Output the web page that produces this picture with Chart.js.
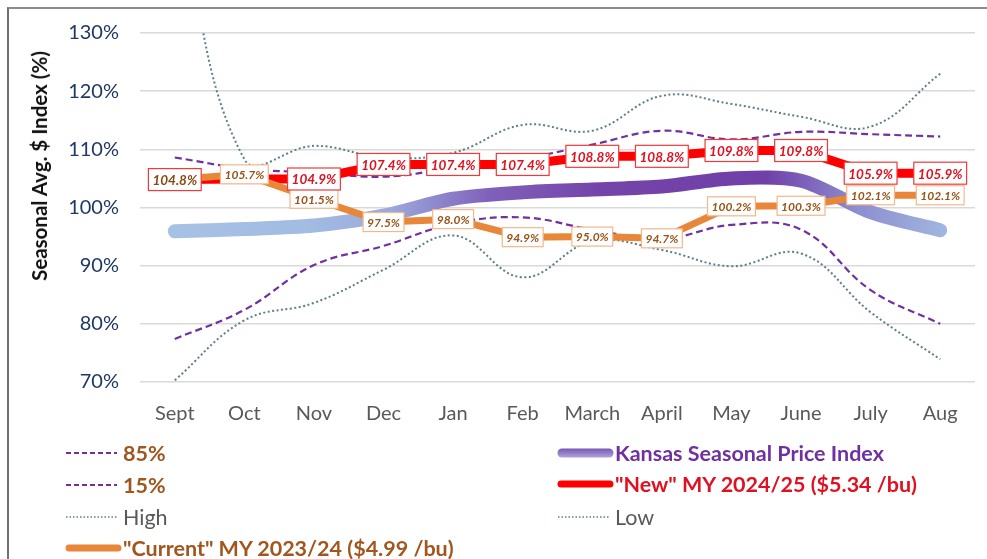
<!DOCTYPE html>
<html><head><meta charset="utf-8">
<script src="https://cdn.jsdelivr.net/npm/chart.js@4.4.1/dist/chart.umd.min.js"></script>
<style>
html,body{margin:0;padding:0;background:#fff;}
#wrap{position:relative;width:987px;height:559px;overflow:hidden;font-family:Lato,'Open Sans',sans-serif;background:#fff;}
#frame{position:absolute;left:7px;top:7px;width:1000px;height:600px;border-left:2px solid #707070;border-top:2px solid #8c8c8c;box-sizing:border-box;}
#c{position:absolute;left:0;top:0;}
#ytitle{position:absolute;left:39px;top:166px;transform:translate(-50%,-50%) rotate(-90deg);white-space:nowrap;font-weight:bold;font-size:20.5px;color:#111;}
.leg{position:absolute;font-size:21.5px;font-weight:bold;white-space:nowrap;line-height:22px;}
.leg svg{position:absolute;top:1px;}
</style></head>
<body><div id="wrap">
<div id="frame"></div>
<canvas id="c" width="987" height="559"></canvas>
<div id="ytitle">Seasonal Avg. $ Index (%)</div>
<div id="legend"></div>
</div>
<script>
const months = ['Sept','Oct','Nov','Dec','Jan','Feb','March','April','May','June','July','Aug'];
const yTicks = [70,80,90,100,110,120,130];
const kansasIndex = [95.9, 96.3, 96.9, 98.6, 101.5, 102.6, 103.1, 103.6, 105.0, 104.6, 99.2, 96.1];
const newMY = [104.8, 104.9, 104.9, 107.4, 107.4, 107.4, 108.8, 108.8, 109.8, 109.8, 105.9, 105.9];
const currentMY = [104.8, 105.7, 101.5, 97.5, 98.0, 94.9, 95.0, 94.7, 100.2, 100.3, 102.1, 102.1];
const pct85 = [108.6, 106.7, 106.0, 105.3, 106.8, 108.4, 110.8, 113.2, 111.7, 113.0, 112.6, 112.2];
const pct15 = [77.4, 82.4, 90.1, 93.4, 97.2, 98.3, 96.2, 94.6, 97.0, 96.2, 85.8, 80.0];
const high = [155.0, 108.3, 110.6, 108.6, 109.4, 114.2, 113.2, 119.2, 117.8, 115.6, 113.9, 123.0];
const low = [70.3, 80.6, 83.6, 89.3, 95.2, 88.0, 94.2, 92.7, 89.9, 92.1, 82.0, 73.9];
const newLabelShown = [true,false,true,true,true,true,true,true,true,true,true,true];
const currentLabelShown = [false,true,true,true,true,true,true,true,true,true,true,true];

const PURPLE='#7030a0', DOT='#5b7f86', ORANGE='#e8863a', RED='#ff0000';

function kansasGrad(ctx){
  const a = ctx.chart.chartArea; if(!a) return '#8a7cc8';
  const g = ctx.chart.ctx.createLinearGradient(a.left,0,a.right,0);
  g.addColorStop(0,'#a7c3e4'); g.addColorStop(0.2,'#a2bce2'); g.addColorStop(0.3,'#9aa9dc');
  g.addColorStop(0.42,'#8060ba'); g.addColorStop(0.55,'#7444aa'); g.addColorStop(0.75,'#7040a8');
  g.addColorStop(0.86,'#8d8fd0'); g.addColorStop(1,'#a7c3e4');
  return g;
}

const labelPlugin = {
  id:'ptlabels',
  afterDatasetsDraw(chart){
    const ctx = chart.ctx;
    const sets = [
      {ds:1, vals:currentMY, show:currentLabelShown, border:'#f2b88a', text:'#9a5316', font:'italic bold 12px Lato, sans-serif', h:19},
      {ds:0, vals:newMY, show:newLabelShown, border:'#ee3a3a', text:'#e0101e', font:'italic bold 13.5px Lato, sans-serif', h:22}
    ];
    ctx.save();
    sets.forEach(s=>{
      const meta = chart.getDatasetMeta(s.ds);
      meta.data.forEach((pt,i)=>{
        if(!s.show[i]) return;
        const txt = s.vals[i].toFixed(1)+'%';
        ctx.font = s.font;
        const w = ctx.measureText(txt).width + 8;
        const x = pt.x, y = pt.y;
        ctx.fillStyle='#fff';
        ctx.fillRect(x-w/2, y-s.h/2, w, s.h);
        ctx.lineWidth=1.2;
        ctx.strokeStyle = (s.ds===0 && i===0) ? '#ee3a3a' : s.border;
        ctx.strokeRect(x-w/2, y-s.h/2, w, s.h);
        ctx.fillStyle = (s.ds===0 && i===0) ? '#8a4a14' : s.text;
        ctx.textAlign='center'; ctx.textBaseline='middle';
        ctx.fillText(txt, x, y+1);
      });
    });
    ctx.restore();
  }
};

new Chart(document.getElementById('c'), {
  type:'line',
  data:{
    labels:months,
    datasets:[
      {label:'"New" MY 2024/25 ($5.34 /bu)', data:newMY, borderColor:RED, borderWidth:9, tension:0, pointRadius:0, order:1, borderJoinStyle:'round'},
      {label:'"Current" MY 2023/24 ($4.99 /bu)', data:currentMY, borderColor:ORANGE, borderWidth:7, tension:0, pointRadius:0, order:0, borderJoinStyle:'round'},
      {label:'Kansas Seasonal Price Index', data:kansasIndex, borderColor:kansasGrad, borderWidth:14, tension:0.3, pointRadius:0, order:6, borderCapStyle:'round'},
      {label:'85%', data:pct85, borderColor:PURPLE, borderWidth:2.2, borderDash:[7,4], tension:0.4, pointRadius:0, order:3},
      {label:'15%', data:pct15, borderColor:PURPLE, borderWidth:2.2, borderDash:[7,4], tension:0.4, pointRadius:0, order:3},
      {label:'High', data:high, borderColor:DOT, borderWidth:2, borderDash:[2,2.5], tension:0.4, pointRadius:0, order:4},
      {label:'Low', data:low, borderColor:DOT, borderWidth:2, borderDash:[2,2.5], tension:0.4, pointRadius:0, order:4}
    ]
  },
  options:{
    responsive:false, animation:false,
    layout:{padding:{left:0,top:24,right:12,bottom:0}},
    plugins:{legend:{display:false}, tooltip:{enabled:false}},
    scales:{
      x:{offset:true, grid:{display:false}, border:{display:false},
         ticks:{color:'#595959', font:{family:'Lato', size:20}, padding:12},
         afterFit(s){ s.height = 559-382; }},
      y:{min:70, max:130, afterBuildTicks(s){ s.ticks = yTicks.map(v=>({value:v})); },
         grid:{color:'#d9d9d9', lineWidth:1.5, drawTicks:false}, border:{display:false},
         ticks:{color:'#1f3864', font:{family:'Lato', size:20}, padding:21, callback:v=>v+'%'},
         afterFit(s){ s.width = 140; }}
    }
  },
  plugins:[labelPlugin]
});

// legend
const legendItems = [
  {x:65, y:442, text:'85%', color:'#a0561c', type:'dash'},
  {x:65, y:474, text:'15%', color:'#a0561c', type:'dash'},
  {x:65, y:506, text:'High', color:'#595959', type:'dot', normal:true},
  {x:65, y:537, text:'"Current" MY 2023/24 ($4.99 /bu)', color:'#a0561c', type:'orange'},
  {x:557, y:442, text:'Kansas Seasonal Price Index', color:'#7030a0', type:'kansas'},
  {x:557, y:473, text:'"New" MY 2024/25 ($5.34 /bu)', color:'#e01020', type:'red'},
  {x:557, y:506, text:'Low', color:'#595959', type:'dot', normal:true}
];
const legEl = document.getElementById('legend');
legendItems.forEach(it=>{
  const d = document.createElement('div');
  d.className='leg';
  d.style.left = it.x+'px'; d.style.top = it.y+'px'; d.style.color = it.color;
  d.style.paddingLeft='58px';
  if(it.normal) d.style.fontWeight='normal';
  let svg='';
  if(it.type==='dash') svg='<line x1="1" y1="10" x2="52" y2="10" stroke="#7030a0" stroke-width="2" stroke-dasharray="5,3"/>';
  else if(it.type==='dot') svg='<line x1="1" y1="10" x2="52" y2="10" stroke="#5b7f86" stroke-width="1.6" stroke-dasharray="1.5,2"/>';
  else if(it.type==='orange') svg='<line x1="4" y1="10" x2="53" y2="10" stroke="#e8863a" stroke-width="7" stroke-linecap="round"/>';
  else if(it.type==='red') svg='<line x1="4" y1="10" x2="53" y2="10" stroke="#ff0000" stroke-width="7" stroke-linecap="round"/>';
  else if(it.type==='kansas') svg='<defs><linearGradient id="kg" gradientUnits="userSpaceOnUse" x1="0" y1="5" x2="0" y2="15"><stop offset="0" stop-color="#7553b2"/><stop offset="1" stop-color="#b0a8de"/></linearGradient></defs><line x1="5" y1="10" x2="52" y2="10" stroke="url(#kg)" stroke-width="9" stroke-linecap="round"/>';
  d.innerHTML = '<svg width="58" height="20" style="left:0">'+svg+'</svg>'+it.text;
  legEl.appendChild(d);
});
</script>
</body></html>
